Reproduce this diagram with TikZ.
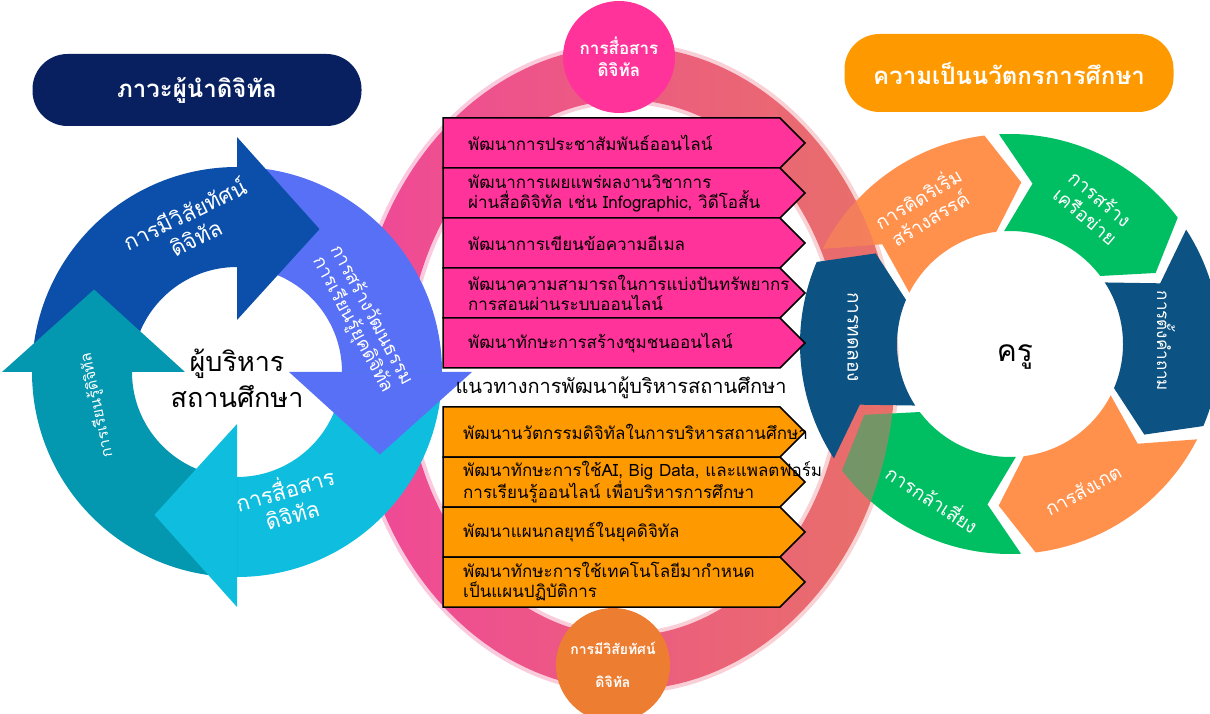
\documentclass[tikz,border=0pt]{standalone}
\usepackage{fontspec}
\setmainfont[Script=Thai]{Loma}
\usetikzlibrary{calc}
\definecolor{navy}{RGB}{8,32,96}
\definecolor{amber}{RGB}{255,153,0}
\definecolor{hotpink}{RGB}{255,51,153}
\definecolor{burnt}{RGB}{237,125,49}
\definecolor{ringpink}{RGB}{240,72,152}
\definecolor{ringsalmon}{RGB}{232,112,104}
\definecolor{arrowblue}{RGB}{11,79,170}
\definecolor{arrowpurple}{RGB}{88,112,245}
\definecolor{arrowcyan}{RGB}{15,190,222}
\definecolor{arrowteal}{RGB}{3,151,176}
\definecolor{segorange}{RGB}{255,145,77}
\definecolor{seggreen}{RGB}{0,191,99}
\definecolor{segblue}{RGB}{12,83,132}

\begin{document}
\begin{tikzpicture}[x=1pt, y=1pt,
  pill/.style={rectangle, rounded corners=35, minimum width=329, minimum height=72, text=white, font=\fontsize{24}{28}\selectfont\bfseries},
  bubble/.style={circle, minimum size=112, inner sep=0, text=white, align=center},
  boxtext/.style={anchor=west, align=left, inner sep=0, font=\fontsize{17}{20}\selectfont},
  pinkbox/.style={fill=hotpink, draw=black, line width=1.5},
  orangebox/.style={fill=amber, draw=black, line width=1.5},
  arrowtext/.style={text=white, align=center, font=\fontsize{22}{26}\selectfont},
  segtext/.style={text=white, align=center, font=\fontsize{19}{23}\selectfont},
  ring/.style={even odd rule, left color=ringpink, right color=ringsalmon}]

  \useasboundingbox (0,0) rectangle (1210,713);

  \shade[ring, opacity=0.3] (625,345) ellipse [x radius=274, y radius=326] (625,345) ellipse [x radius=214, y radius=264];
  \shade[ring] (625,345) ellipse [x radius=270, y radius=322] (625,345) ellipse [x radius=218, y radius=268];

  \begin{scope}[shift={(1010,369)}]
    \foreach \e/\c in {97/segorange, 37/seggreen, -23/segblue, -83/segorange, -143/seggreen, 157/segblue}
      \fill[\c] (\e+56:210) arc[start angle=\e+56, end angle=\e, radius=210] -- (\e-11:162) -- (\e:113) arc[start angle=\e, end angle=\e+56, radius=113] -- (\e+45:162) -- cycle;
  \end{scope}

  \foreach \e in {97, -143}
  {
    \begin{scope}
      \clip[shift={(1010,369)}] (\e+56:210) arc[start angle=\e+56, end angle=\e, radius=210] -- (\e-11:162) -- (\e:113) arc[start angle=\e, end angle=\e+56, radius=113] -- (\e+45:162) -- cycle;
      \shade[ring, opacity=0.5] (625,345) ellipse [x radius=270, y radius=322] (625,345) ellipse [x radius=218, y radius=268];
    \end{scope}
  }

  \begin{scope}[shift={(237,341)}]
    \foreach \b/\c in {90/arrowblue, 0/arrowpurple, -90/arrowcyan, 180/arrowteal}
      \fill[\c] (\b+90:205) arc[start angle=\b+90, end angle=\b, radius=205] -- (\b:105) arc[start angle=\b, end angle=\b+90, radius=105] -- cycle;
    \foreach \b/\c in {90/arrowblue, 0/arrowpurple, -90/arrowcyan, 180/arrowteal}
      \fill[\c] (\b:52) -- (\b:235) -- (\b-30:165) -- cycle;
  \end{scope}

  \node (vision) [arrowtext, rotate=26] at (190,488) {การมีวิสัยทัศน์\\ดิจิทัล};
  \node (culture) [arrowtext, rotate=-62, font=\fontsize{18.5}{21}\selectfont] at (362,393) {การสร้างวัฒนธรรม\\การเรียนรู้ยุคดิจิทัล};
  \node (comm) [arrowtext, rotate=16] at (288,213) {การสื่อสาร\\ดิจิทัล};
  \node (learn) [arrowtext, rotate=102, font=\fontsize{15.5}{18}\selectfont] at (97,308) {การเรียนรู้ดิจิทัล};
  \node (admin) [font=\fontsize{27}{36}\selectfont, align=center] at (237,335) {ผู้บริหาร\\สถานศึกษา};

  \node (leadpill) [pill, fill=navy] at (197,623) {ภาวะผู้นำดิจิทัล};
  \node (innopill) [pill, fill=amber, minimum height=78] at (1009,640) {ความเป็นนวัตกรการศึกษา};

  \node (commdot) [bubble, fill=hotpink, font=\fontsize{17}{22}\selectfont\bfseries] at (619,656) {การสื่อสาร\\ดิจิทัล};
  \node (visiondot) [bubble, fill=burnt, minimum size=114, font=\fontsize{14}{33}\selectfont\bfseries] at (613,48) {การมีวิสัยทัศน์\\ดิจิทัล};

  \foreach \ytop/\nm/\tx in {595/dev1/พัฒนาการประชาสัมพันธ์ออนไลน์, 545/dev2/{พัฒนาการเผยแพร่ผลงานวิชาการ\\ผ่านสื่อดิจิทัล เช่น Infographic, วิดีโอสั้น}, 495/dev3/พัฒนาการเขียนข้อความอีเมล, 445/dev4/{พัฒนาความสามารถในการแบ่งปันทรัพยากร\\การสอนผ่านระบบออนไลน์}, 395/dev5/พัฒนาทักษะการสร้างชุมชนออนไลน์}
  {
    \draw[pinkbox] (443,\ytop) -- (780,\ytop) -- (805,\ytop-25) -- (780,\ytop-50) -- (443,\ytop-50) -- cycle;
    \node (\nm) [boxtext] at (468,\ytop-25) {\tx};
  }

  \node (guide) [font=\fontsize{20}{24}\selectfont] at (621,325) {แนวทางการพัฒนาผู้บริหารสถานศึกษา};

  \foreach \ytop/\nm/\tx in {306/inno1/พัฒนานวัตกรรมดิจิทัลในการบริหารสถานศึกษา, 256/inno2/{พัฒนาทักษะการใช้AI, Big Data, และแพลตฟอร์ม\\การเรียนรู้ออนไลน์ เพื่อบริหารการศึกษา}, 206/inno3/พัฒนาแผนกลยุทธ์ในยุคดิจิทัล, 156/inno4/{พัฒนาทักษะการใช้เทคโนโลยีมากำหนด\\เป็นแผนปฏิบัติการ}}
  {
    \draw[orangebox] (443,\ytop) -- (780,\ytop) -- (805,\ytop-25) -- (780,\ytop-50) -- (443,\ytop-50) -- cycle;
    \node (\nm) [boxtext] at (463,\ytop-25) {\tx};
  }

  \node (creative) [segtext, rotate=31] at (923,506) {การคิดริเริ่ม\\สร้างสรรค์};
  \node (network) [segtext, rotate=-40] at (1093,506) {การสร้าง\\เครือข่าย};
  \node (question) [segtext, rotate=-90, font=\fontsize{17}{20}\selectfont] at (1166,372) {การตั้งคำถาม};
  \node (observe) [segtext, rotate=29] at (1083,223) {การสังเกต};
  \node (risk) [segtext, rotate=-33] at (933,215) {การกล้าเสี่ยง};
  \node (trial) [segtext, rotate=-90] at (853,376) {การทดลอง};
  \node (teacher) [font=\fontsize{30}{36}\selectfont] at (1015,356) {ครู};
\end{tikzpicture}
\end{document}
